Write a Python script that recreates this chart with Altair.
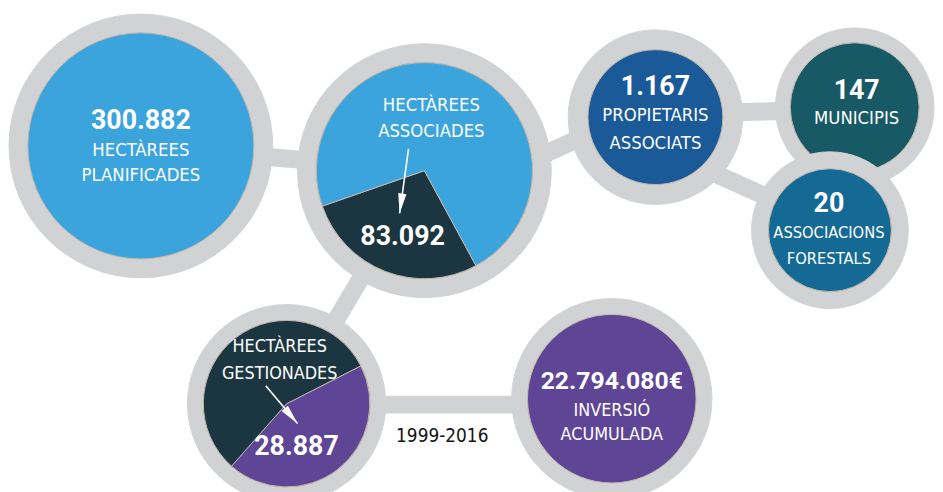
import math
import altair as alt
import pandas as pd

# ---------------- data (as printed in the infographic) ----------------
node_ids = ["planificades", "associades", "gestionades", "inversio",
            "propietaris", "municipis", "associacions"]
node_numbers = ["300.882", "83.092", "28.887", "22.794.080€", "1.167", "147", "20"]
node_line1 = ["HECTÀREES", "HECTÀREES", "HECTÀREES", "INVERSIÓ",
              "PROPIETARIS", "MUNICIPIS", "ASSOCIACIONS"]
node_line2 = ["PLANIFICADES", "ASSOCIADES", "GESTIONADES", "ACUMULADA",
              "ASSOCIATS", "", "FORESTALS"]
period_label = "1999-2016"

# wedge shares as drawn inside the two pie circles
associades_slices = ["associades", "resta"]
associades_share = [0.276, 0.724]
gestionades_slices = ["gestionades", "resta"]
gestionades_share = [0.44, 0.56]

links = [("planificades", "associades"), ("associades", "gestionades"),
         ("gestionades", "inversio"), ("associades", "propietaris"),
         ("propietaris", "municipis"), ("propietaris", "associacions")]

# ---------------- layout / style ----------------
W, H = 935, 484
LABEL_FONT = "DejaVu Sans Condensed, Roboto, sans-serif"
NUM_FONT = "Roboto, Liberation Sans, sans-serif"
GRAY = "#D1D2D4"
EDGE = "#C4B8AC"
LIGHT = "#3BA4DC"
DARK = "#1B3640"
PURPLE = "#5E4595"

cx = {"planificades": 142, "associades": 428, "gestionades": 289, "inversio": 617,
      "propietaris": 661, "municipis": 862, "associacions": 837}
cy = {"planificades": 145, "associades": 170, "gestionades": 405, "inversio": 400,
      "propietaris": 116, "municipis": 106, "associacions": 230}
r_out = {"planificades": 133, "associades": 128, "gestionades": 100, "inversio": 101,
         "propietaris": 88, "municipis": 80, "associacions": 79}
r_in = {"planificades": 114, "associades": 109, "gestionades": 84, "inversio": 85,
        "propietaris": 68, "municipis": 65, "associacions": 62}
fill = {"planificades": LIGHT, "associades": LIGHT, "gestionades": DARK,
        "inversio": PURPLE, "propietaris": "#1A5A99", "municipis": "#175A66",
        "associacions": "#146A95"}

link_pts = {
    ("planificades", "associades"): (142, 145, 428, 170),
    ("associades", "gestionades"): (428, 170, 289, 405),
    ("gestionades", "inversio"): (289, 406, 617, 406),
    ("associades", "propietaris"): (470, 190, 661, 102),
    ("propietaris", "municipis"): (661, 113, 862, 108),
    ("propietaris", "associacions"): (661, 146, 837, 225),
}

text_pos = {
    "planificades": (142, 128, 155, 180),
    "associades": (435, 245, 110, 136),
    "gestionades": (282, 457, 353, 380),
    "inversio": (617, 390, 417, 442),
    "propietaris": (661, 94, 120, 148),
    "municipis": (864, 98, 123, None),
    "associacions": (836, 212, 238, 264),
}
num_x_override = {"associades": 406, "gestionades": 299}
num_size = {"planificades": 27, "associades": 27, "gestionades": 27, "inversio": 25,
            "propietaris": 27, "municipis": 27, "associacions": 27}
label_size = {"planificades": 18.5, "associades": 18.5, "gestionades": 18, "inversio": 18,
              "propietaris": 18.5, "municipis": 18.5, "associacions": 16.5}

arrows = [(412, 148, 403, 213), (268, 387, 300, 425)]

xs = alt.Scale(domain=[8, 8 + W], range=[0, W])
ys = alt.Scale(domain=[8, 8 + H], range=[0, H])

# ---------------- tables ----------------
link_df = pd.DataFrame([
    {"x": p[0], "y": p[1], "x2": p[2], "y2": p[3]}
    for p in (link_pts[l] for l in links)
])

disc_rows = []
for n in node_ids:
    disc_rows.append({"node": n, "cx": cx[n], "cy": cy[n], "r": r_out[n],
                      "col": GRAY, "edge": GRAY})
    disc_rows.append({"node": n, "cx": cx[n], "cy": cy[n], "r": r_in[n],
                      "col": fill[n], "edge": EDGE})
disc_df = pd.DataFrame(disc_rows)

pie_a = pd.DataFrame({"slice": associades_slices, "share": associades_share,
                      "k": [0, 1], "col": [DARK, LIGHT],
                      "cx": cx["associades"], "cy": cy["associades"],
                      "r": r_in["associades"]})
pie_g = pd.DataFrame({"slice": gestionades_slices, "share": gestionades_share,
                      "k": [0, 1], "col": [PURPLE, DARK],
                      "cx": cx["gestionades"], "cy": cy["gestionades"],
                      "r": r_in["gestionades"]})

num_rows, lab_rows = [], []
for i, n in enumerate(node_ids):
    x0, yn, y1, y2 = text_pos[n]
    num_rows.append({"t": node_numbers[i], "x": num_x_override.get(n, x0),
                     "y": yn, "fs": num_size[n]})
    lab_rows.append({"t": node_line1[i], "x": x0, "y": y1, "fs": label_size[n]})
    if node_line2[i]:
        lab_rows.append({"t": node_line2[i], "x": x0, "y": y2, "fs": label_size[n]})
num_df = pd.DataFrame(num_rows)
lab_df = pd.DataFrame(lab_rows)

arrow_df = pd.DataFrame([{"x": a[0], "y": a[1], "x2": a[2], "y2": a[3]} for a in arrows])
head_rows = []
for x1, y1, x2, y2 in arrows:
    L = math.hypot(x2 - x1, y2 - y1)
    ux, uy = (x2 - x1) / L, (y2 - y1) / L
    head_rows.append({"x": x2 - ux * 10, "y": y2 - uy * 10,
                      "ang": math.degrees(math.atan2(-ux, uy)) % 360})
head_df = pd.DataFrame(head_rows)

period_df = pd.DataFrame({"t": [period_label], "x": [446], "y": [444]})

# ---------------- marks ----------------
X = lambda f: alt.X(f, scale=xs, axis=None)
Y = lambda f: alt.Y(f, scale=ys, axis=None)

connectors = alt.Chart(link_df).mark_rule(color=GRAY, strokeWidth=18, strokeCap="butt").encode(
    x=X("x:Q"), y=Y("y:Q"), x2="x2:Q", y2="y2:Q")

discs = alt.Chart(disc_df).mark_arc(theta=0, theta2=2 * math.pi, strokeWidth=1).encode(
    x=X("cx:Q"), y=Y("cy:Q"),
    radius=alt.Radius("r:Q", scale=None, stack=False),
    color=alt.Color("col:N", scale=None),
    stroke=alt.Stroke("edge:N", scale=None))

a0 = math.radians(151.5)
pie1 = alt.Chart(pie_a).mark_arc(stroke=EDGE, strokeWidth=1).encode(
    x=X("cx:Q"), y=Y("cy:Q"),
    theta=alt.Theta("share:Q", stack=True,
                    scale=alt.Scale(domain=[0, 1], range=[a0, a0 + 2 * math.pi])),
    radius=alt.Radius("r:Q", scale=None, stack=False),
    color=alt.Color("col:N", scale=None),
    order=alt.Order("k:Q"))

g0 = math.radians(63)
pie2 = alt.Chart(pie_g).mark_arc(stroke=EDGE, strokeWidth=1).encode(
    x=X("cx:Q"), y=Y("cy:Q"),
    theta=alt.Theta("share:Q", stack=True,
                    scale=alt.Scale(domain=[0, 1], range=[g0, g0 + 2 * math.pi])),
    radius=alt.Radius("r:Q", scale=None, stack=False),
    color=alt.Color("col:N", scale=None),
    order=alt.Order("k:Q"))

numbers = alt.Chart(num_df).mark_text(
    font=NUM_FONT, fontWeight="bold", color="white", align="center", baseline="alphabetic"
).encode(x=X("x:Q"), y=Y("y:Q"), text="t:N", size=alt.Size("fs:Q", scale=None))

labels = alt.Chart(lab_df).mark_text(
    font=LABEL_FONT, fontWeight="normal", color="white", align="center", baseline="alphabetic"
).encode(x=X("x:Q"), y=Y("y:Q"), text="t:N", size=alt.Size("fs:Q", scale=None))

arrow_lines = alt.Chart(arrow_df).mark_rule(color="white", strokeWidth=1.6).encode(
    x=X("x:Q"), y=Y("y:Q"), x2="x2:Q", y2="y2:Q")

heads = alt.Chart(head_df).mark_point(
    shape="M-0.42,-1L0.42,-1L0,1Z", filled=True, color="white", opacity=1, size=400, strokeWidth=0
).encode(x=X("x:Q"), y=Y("y:Q"), angle=alt.Angle("ang:Q", scale=None))

period = alt.Chart(period_df).mark_text(
    font=LABEL_FONT, fontSize=19, color="#141414", align="center", baseline="alphabetic"
).encode(x=X("x:Q"), y=Y("y:Q"), text="t:N")

chart = alt.layer(
    connectors, discs, pie1, pie2, numbers, labels, arrow_lines, heads, period
).resolve_scale(theta="independent").properties(
    width=W, height=H, padding=0, autosize="none", background="white"
).configure_view(stroke=None)

chart.save("out.html", embed_options={"renderer": "svg", "actions": False})
